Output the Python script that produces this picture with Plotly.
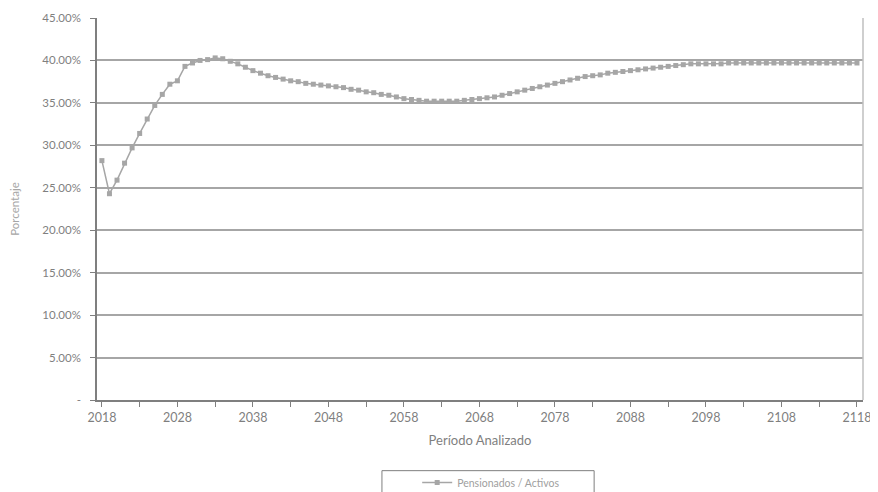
import plotly.graph_objects as go

years = list(range(2018, 2119))
ratio_pct = [
    28.2, 24.3, 25.9, 27.9, 29.7, 31.4, 33.1, 34.7, 36.0, 37.2,
    37.6, 39.3, 39.7, 40.0, 40.1, 40.3, 40.2, 39.9, 39.6, 39.2,
    38.8, 38.5, 38.2, 38.0, 37.8, 37.6, 37.5, 37.3, 37.2, 37.1,
    37.0, 36.9, 36.8, 36.6, 36.5, 36.3, 36.2, 36.0, 35.9, 35.7,
    35.5, 35.4, 35.3, 35.2, 35.2, 35.2, 35.2, 35.2, 35.3, 35.4,
    35.5, 35.6, 35.7, 35.9, 36.1, 36.3, 36.5, 36.7, 36.9, 37.1,
    37.3, 37.5, 37.7, 37.9, 38.1, 38.2, 38.3, 38.5, 38.6, 38.7,
    38.8, 38.9, 39.0, 39.1, 39.2, 39.3, 39.4, 39.5, 39.6, 39.6,
    39.6, 39.6, 39.6, 39.7, 39.7, 39.7, 39.7, 39.7, 39.7, 39.7,
    39.7, 39.7, 39.7, 39.7, 39.7, 39.7, 39.7, 39.7, 39.7, 39.7,
    39.7,
]
y_tickvals = [0, 5, 10, 15, 20, 25, 30, 35, 40, 45]
y_ticktext = ["-", "5.00%", "10.00%", "15.00%", "20.00%", "25.00%",
              "30.00%", "35.00%", "40.00%", "45.00%"]
x_tickvals = list(range(2018, 2119, 5))
x_ticktext = [str(y) if (y - 2018) % 10 == 0 else "" for y in x_tickvals]
series_name = "Pensionados / Activos"

font = "Lato, Open Sans, sans-serif"
fig = go.Figure()
fig.add_trace(go.Scatter(
    x=years, y=ratio_pct, mode="lines+markers", name=series_name,
    line=dict(color="#a6a6a6", width=1.5),
    marker=dict(symbol="square", size=5, color="#a6a6a6"),
))
fig.update_layout(
    width=870, height=484,
    margin=dict(l=89, r=15, t=10, b=92, autoexpand=False),
    paper_bgcolor="white", plot_bgcolor="white",
    font=dict(family=font, color="#7f7f7f", size=12),
    showlegend=True,
    legend=dict(orientation="h", x=0.418, y=-0.178, xanchor="left", yanchor="top",
                bgcolor="rgba(0,0,0,0)", borderwidth=0,
                font=dict(size=10.5, color="#a0a0a0"), itemwidth=30),
)
fig.update_xaxes(
    range=[2017.35, 2118.8], tickvals=x_tickvals, ticktext=x_ticktext,
    ticks="outside", ticklen=5, tickcolor="#7f7f7f", tickfont=dict(size=12.5),
    showline=True, linecolor="#7f7f7f", linewidth=1.5, mirror=False,
    showgrid=False, zeroline=False, automargin=False,
    title=dict(text="Período Analizado", font=dict(size=13, color="#7f7f7f"), standoff=12),
)
fig.update_yaxes(
    range=[0, 45], tickvals=y_tickvals, ticktext=y_ticktext,
    ticks="outside", ticklen=5, tickcolor="#7f7f7f", tickfont=dict(size=11.5),
    ticklabelstandoff=7,
    showline=True, linecolor="#7f7f7f", linewidth=1.5, automargin=False,
    showgrid=True, gridcolor="#a6a6a6", gridwidth=1.5, zeroline=False,
    title=dict(text="Porcentaje", font=dict(size=11.5, color="#a6a6a6"), standoff=20),
)
fig.add_shape(type="line", xref="paper", yref="paper", x0=1, x1=1, y0=0, y1=1,
              line=dict(color="#bfbfbf", width=1.5))
fig.add_shape(type="rect", xref="paper", yref="paper", x0=0.372, x1=0.649,
              y0=-0.185, y1=-0.3, line=dict(color="#7f7f7f", width=1))
fig.write_html("out.html")
